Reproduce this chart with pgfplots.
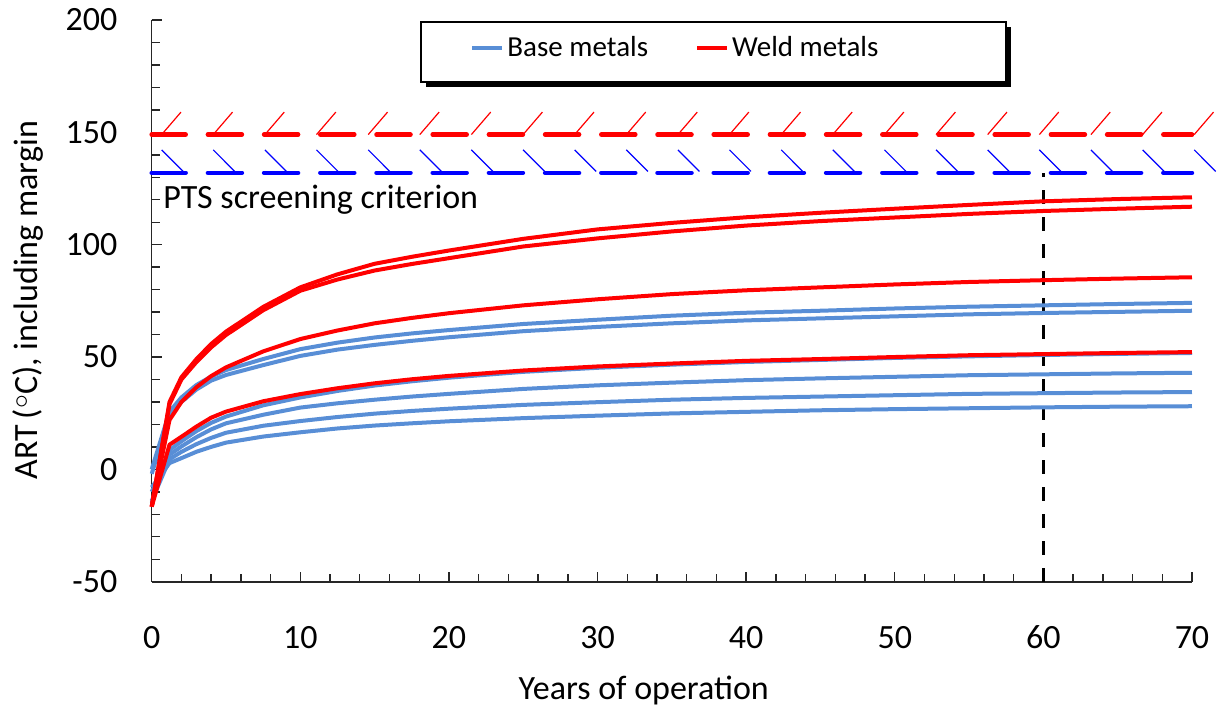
\documentclass[border=0pt]{standalone}
\usepackage{pgfplots}
\pgfplotsset{compat=1.18}
\usepackage{pgfplotstable}
\usepackage{fontspec}
\setmainfont{Carlito}
\definecolor{bm}{RGB}{88,142,214}
\definecolor{wm}{RGB}{255,0,0}
\definecolor{pb}{RGB}{0,0,255}

\pgfplotstableread{
t     b1    b2    b6    b3    b4    b5    r1     r2     r3    r4
0     0     -2    -15   -10   -14   -8    -16.6  -16.6  -16.6 -16.6
1.2   25.7  24    8.6   6.5   4.5   2.8   30     29     22    11
2     32    30    12.5  10.2  7.8   5     41     40     30    14.5
3     37.5  35.5  17    14.3  11.2  7.8   49     47.7   36.5  19
4     41.3  39.5  20.7  17.8  14    10    55.8   54.3   41.5  23
5     44.2  42    23.5  20.5  16.3  11.9  61.3   59.8   45.4  25.7
7.5   49.1  46.4  28.5  24.3  19.4  14.6  72.3   70.8   52.5  30.3
10    53.5  50.5  32    27.5  21.5  16.5  81     79.5   58    33.5
12.5  56.4  53.3  34.9  29.4  23.3  18.2  86.8   84.5   61.8  36.1
15    58.7  55.4  37.3  31    24.8  19.5  91.5   88.5   65    38.3
17.5  60.5  57.2  39.2  32.4  26    20.5  94.6   91.4   67.4  40.1
20    62    58.8  40.8  33.6  27    21.4  97.4   94     69.5  41.6
25    64.7  61.5  43.4  35.8  28.7  22.8  102.6  99.2   73    44
30    66.6  63.4  45.2  37.4  29.9  23.9  106.8  102.8  75.7  45.8
35    68.4  65    46.6  38.6  31    24.9  109.7  105.9  78    47.1
40    69.7  66.3  47.8  39.7  31.8  25.6  112.2  108.5  79.7  48.3
45    70.6  67.2  48.7  40.5  32.4  26.3  114.2  110.5  81    49.1
50    71.6  68.1  49.6  41.2  33    26.8  116    112.1  82.3  50
55    72.4  69    50.3  41.9  33.6  27.2  117.7  113.7  83.4  50.8
60    73    69.6  50.9  42.3  33.9  27.6  119.3  115    84.2  51.3
65    73.6  70.1  51.4  42.7  34.2  27.9  120.3  116    84.9  51.8
70    74.1  70.6  51.8  43    34.4  28.1  121.1  116.9  85.5  52.2
}\curves

\begin{document}
\begin{tikzpicture}[font=\fontsize{17}{20}\selectfont]
\path[use as bounding box] (-75.85pt,-65.65pt) rectangle (537.15pt,290.85pt);
\begin{axis}[
  at={(0pt,0pt)}, anchor=south west,
  scale only axis, width=520.15pt, height=280.85pt,
  xmin=0, xmax=70, ymin=-50, ymax=200,
  clip=false,
  axis lines=left,
  axis line style={-, black!85, line width=0.8pt},
  xtick={0,10,...,70}, minor xtick={2,4,...,68},
  ytick={-50,0,...,200}, minor ytick={-40,-30,...,190},
  tick align=inside,
  major tick length=5pt, minor tick length=4pt,
  tick style={black!85, line width=0.7pt},
  /pgf/number format/assume math mode=true,
  xticklabel style={anchor=center, inner sep=0pt, yshift=-27.7pt},
  yticklabel style={anchor=east, inner sep=0pt, xshift=-17pt},
  xlabel={Years of operation},
  ylabel={ART\,(\raisebox{0.25em}{\scalebox{0.8}{$\circ$}}C), including margin},
  xlabel style={at={(axis description cs:0.473,-0.193)}, anchor=center},
  ylabel style={at={(axis description cs:-0.1192,0.5015)}, anchor=center},
  legend columns=2,
  legend style={at={(axis description cs:0.306,0.950)}, anchor=west,
    draw=none, fill=none, inner sep=0pt,
    font=\fontsize{14.5}{17}\selectfont,
    nodes={inner xsep=1.5pt, inner ysep=0pt},
    /tikz/every even column/.append style={column sep=22pt}},
  legend image code/.code={\draw[#1] (0pt,0pt) -- (15pt,0pt);},
  every axis plot/.append style={line join=round},
]
% legend box with shadow
\fill[black] ([xshift=2.5pt,yshift=-2.5pt]axis description cs:0.2589,0.9964) rectangle ([xshift=2.5pt,yshift=-2.5pt]axis description cs:0.8212,0.8896);
\draw[black, line width=0.6pt, fill=white] (axis description cs:0.2589,0.9964) rectangle (axis description cs:0.8212,0.8896);

\addlegendimage{bm, line width=2pt}
\addlegendimage{wm, line width=2pt}
\legend{Base metals, Weld metals}

% PTS screening limits
\addplot[forget plot, wm, line width=2.25pt, line cap=round, dash pattern=on 17pt off 11.1pt] coordinates {(0,149) (70,149)};
\addplot[forget plot, pb, line width=2.25pt, line cap=round, dash pattern=on 17pt off 11.1pt] coordinates {(0,132) (70,132)};
\addplot[forget plot, wm, line width=0.6pt, quiver={u=1.3, v=10}] coordinates {
(0.67,149) (4.14,149) (7.62,149) (11.09,149) (14.57,149) (18.04,149) (21.51,149)
(24.99,149) (28.46,149) (31.94,149) (35.41,149) (38.88,149) (42.36,149) (45.83,149)
(49.31,149) (52.78,149) (56.25,149) (59.73,149) (63.20,149) (66.68,149) (70.15,149)};
\addplot[forget plot, pb, line width=0.6pt, quiver={u=1.45, v=-9.6}] coordinates {
(0.67,142.2) (4.14,142.2) (7.62,142.2) (11.09,142.2) (14.57,142.2) (18.04,142.2) (21.51,142.2)
(24.99,142.2) (28.46,142.2) (31.94,142.2) (35.41,142.2) (38.88,142.2) (42.36,142.2) (45.83,142.2)
(49.31,142.2) (52.78,142.2) (56.25,142.2) (59.73,142.2) (63.20,142.2) (66.68,142.2) (70.15,142.2)};

% 60-year line
\addplot[forget plot, black, line width=1.5pt, dash pattern=on 6.9pt off 6.6pt] coordinates {(60,-50) (60,132)};

% base metals
\addplot[forget plot, bm, line width=2pt] table[x=t, y=b1] {\curves};
\addplot[forget plot, bm, line width=2pt] table[x=t, y=b2] {\curves};
\addplot[forget plot, bm, line width=2pt] table[x=t, y=b6] {\curves};
\addplot[forget plot, bm, line width=2pt] table[x=t, y=b3] {\curves};
\addplot[forget plot, bm, line width=2pt] table[x=t, y=b4] {\curves};
\addplot[forget plot, bm, line width=2pt] table[x=t, y=b5] {\curves};
% weld metals
\addplot[forget plot, wm, line width=2pt] table[x=t, y=r1] {\curves};
\addplot[forget plot, wm, line width=2pt] table[x=t, y=r2] {\curves};
\addplot[forget plot, wm, line width=2pt] table[x=t, y=r3] {\curves};
\addplot[forget plot, wm, line width=2pt] table[x=t, y=r4] {\curves};

\node[anchor=west, inner sep=0pt] at (axis cs:0.76,119.9) {PTS screening criterion};
\end{axis}
\end{tikzpicture}
\end{document}
